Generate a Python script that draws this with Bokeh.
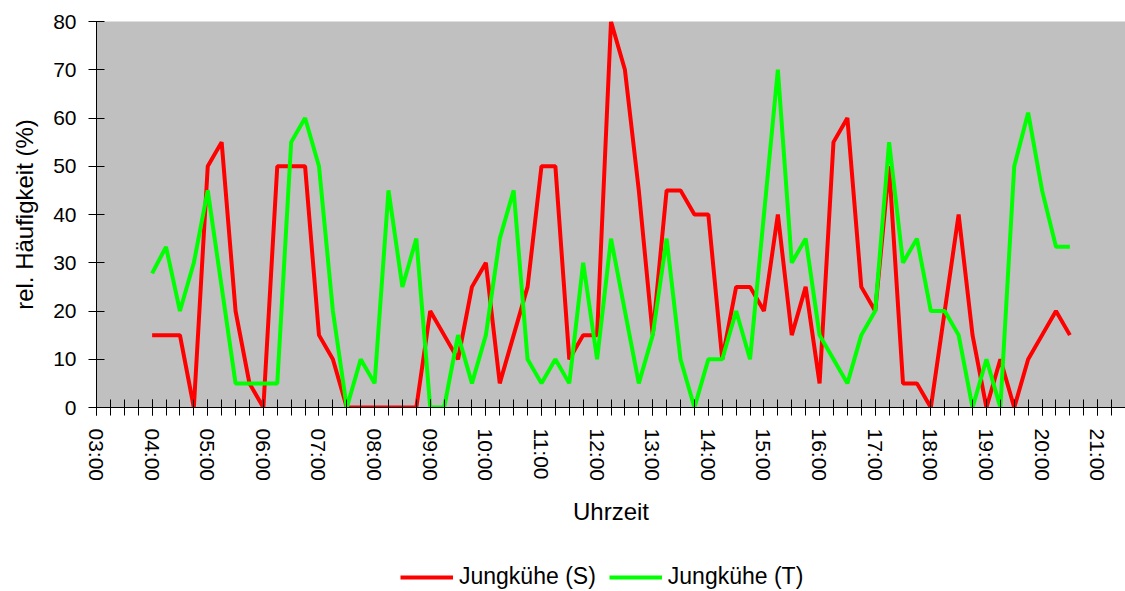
from bokeh.plotting import figure
from bokeh.layouts import column
from bokeh.models import (FixedTicker, Legend, LegendItem, Range1d,
                          CustomJSTickFormatter)
from bokeh.embed import file_html
from bokeh.resources import INLINE

times = ["04:00", "04:15", "04:30", "04:45", "05:00", "05:15", "05:30", "05:45",
         "06:00", "06:15", "06:30", "06:45", "07:00", "07:15", "07:30", "07:45",
         "08:00", "08:15", "08:30", "08:45", "09:00", "09:15", "09:30", "09:45",
         "10:00", "10:15", "10:30", "10:45", "11:00", "11:15", "11:30", "11:45",
         "12:00", "12:15", "12:30", "12:45", "13:00", "13:15", "13:30", "13:45",
         "14:00", "14:15", "14:30", "14:45", "15:00", "15:15", "15:30", "15:45",
         "16:00", "16:15", "16:30", "16:45", "17:00", "17:15", "17:30", "17:45",
         "18:00", "18:15", "18:30", "18:45", "19:00", "19:15", "19:30", "19:45",
         "20:00", "20:15", "20:30"]

jungkuehe_s = [15, 15, 15, 0, 50, 55, 20, 5, 0, 50, 50, 50, 15, 10, 0, 0,
               0, 0, 0, 0, 20, 15, 10, 25, 30, 5, 15, 25, 50, 50, 10, 15,
               15, 80, 70, 45, 15, 45, 45, 40, 40, 10, 25, 25, 20, 40, 15, 25,
               5, 55, 60, 25, 20, 50, 5, 5, 0, 20, 40, 15, 0, 10, 0, 10,
               15, 20, 15]

jungkuehe_t = [27.8, 33.3, 20, 30, 45, 25, 5, 5, 5, 5, 55, 60, 50, 20, 0, 10,
               5, 45, 25, 35, 0, 0, 15, 5, 15, 35, 45, 10, 5, 10, 5, 30,
               10, 35, 20, 5, 15, 35, 10, 0, 10, 10, 20, 10, 40, 70, 30, 35,
               15, 10, 5, 15, 20, 55, 30, 35, 20, 20, 15, 0, 10, 0, 50, 61.1,
               45, 33.3, 33.3]

hour_ticks = list(range(3, 22))
y_ticks = [0, 10, 20, 30, 40, 50, 60, 70, 80]
series_names = ["Jungkühe (S)", "Jungkühe (T)"]
series_colors = ["#FF0000", "#00FF00"]

x = [int(t[:2]) + int(t[3:]) / 60 for t in times]
quarter_ticks = [h + q / 4 for h in range(3, 22) for q in range(4)]

FONT = "Liberation Sans"

p = figure(width=1125, height=561, output_backend="svg", toolbar_location=None,
           x_range=Range1d(3, 21.5), y_range=Range1d(0, 80),
           min_border_left=96, min_border_right=0, min_border_top=21,
           min_border_bottom=154)

p.background_fill_color = "#C0C0C0"
p.border_fill_color = "white"
p.outline_line_color = None
p.grid.visible = False

p.line(x, jungkuehe_s, line_color=series_colors[0], line_width=4)
p.line(x, jungkuehe_t, line_color=series_colors[1], line_width=4)

xa = p.xaxis[0]
xa.ticker = FixedTicker(ticks=hour_ticks, minor_ticks=quarter_ticks)
xa.formatter = CustomJSTickFormatter(code="""
const h = Math.round(tick);
return (h < 10 ? '0' : '') + h + ':00';
""")
xa.major_label_orientation = "vertical"
xa.major_tick_in = 8
xa.major_tick_out = 8
xa.minor_tick_in = 8
xa.minor_tick_out = 8
xa.major_label_standoff = 13
xa.axis_label = "Uhrzeit"
xa.axis_label_standoff = 14

ya = p.yaxis[0]
ya.ticker = FixedTicker(ticks=y_ticks)
ya.major_tick_in = 8
ya.major_tick_out = 8
ya.minor_tick_line_color = None
ya.major_label_standoff = 12
ya.axis_label = "rel. Häufigkeit (%)"
ya.axis_label_standoff = 12

for ax in (xa, ya):
    ax.axis_line_color = "black"
    ax.major_tick_line_color = "black"
    ax.major_label_text_font = FONT
    ax.major_label_text_font_size = "21px"
    ax.major_label_text_color = "black"
    ax.axis_label_text_font = FONT
    ax.axis_label_text_font_size = "24px"
    ax.axis_label_text_font_style = "normal"
    ax.axis_label_text_color = "black"
xa.minor_tick_line_color = "black"

# legend strip below the chart (its lines lie outside its own view)
p2 = figure(width=1125, height=30, output_backend="svg", toolbar_location=None,
            x_range=Range1d(0, 1), y_range=Range1d(0, 1),
            x_axis_type=None, y_axis_type=None,
            min_border_left=96, min_border_right=0, min_border_top=0,
            min_border_bottom=0)
p2.outline_line_color = None
p2.grid.visible = False
k1 = p2.line([-5, -4], [-5, -4], line_color=series_colors[0], line_width=4)
k2 = p2.line([-5, -4], [-5, -4], line_color=series_colors[1], line_width=4)

legend = Legend(items=[LegendItem(label=series_names[0], renderers=[k1]),
                       LegendItem(label=series_names[1], renderers=[k2])],
                orientation="horizontal", location=(304, 1),
                glyph_width=53, glyph_height=20, label_height=20,
                label_standoff=6, spacing=13, padding=0, margin=0,
                label_text_font=FONT, label_text_font_size="23px",
                label_text_color="black",
                background_fill_alpha=0, border_line_color=None)
p2.add_layout(legend, "center")

layout = column(p, p2, spacing=0)
open("out.html", "w").write(file_html(layout, INLINE))
